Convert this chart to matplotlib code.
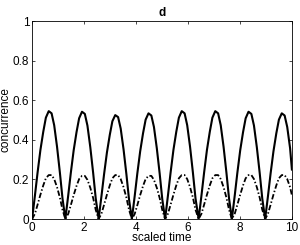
import matplotlib
matplotlib.use("Agg")
import matplotlib.pyplot as plt

# values, one row per oscillation (zero to zero)
t = [
    0.00, 0.11, 0.21, 0.32, 0.43, 0.53, 0.64, 0.75, 0.85, 0.96, 1.07, 1.17,
    1.28, 1.39, 1.49, 1.60, 1.71, 1.81, 1.92, 2.03, 2.13, 2.24, 2.35, 2.45,
    2.56, 2.67, 2.77, 2.88, 2.99, 3.09, 3.20, 3.31, 3.41, 3.52, 3.63, 3.73,
    3.84, 3.95, 4.05, 4.16, 4.27, 4.37, 4.48, 4.59, 4.69, 4.80, 4.91, 5.01,
    5.12, 5.23, 5.33, 5.44, 5.55, 5.65, 5.76, 5.87, 5.97, 6.08, 6.19, 6.29,
    6.41, 6.52, 6.62, 6.73, 6.84, 6.94, 7.05, 7.16, 7.26, 7.37, 7.48, 7.58,
    7.69, 7.80, 7.90, 8.01, 8.12, 8.22, 8.33, 8.44, 8.54, 8.65, 8.76, 8.86,
    8.97, 9.08, 9.18, 9.29, 9.40, 9.50, 9.61, 9.72, 9.82, 9.93, 10.0,
]
conc_solid = [
    0, 0.120, 0.234, 0.349, 0.441, 0.512, 0.545, 0.534, 0.474, 0.365, 0.234, 0.104,
    0, 0.119, 0.233, 0.347, 0.439, 0.509, 0.542, 0.531, 0.472, 0.363, 0.233, 0.103,
    0, 0.116, 0.226, 0.336, 0.425, 0.494, 0.525, 0.515, 0.457, 0.352, 0.226, 0.100,
    0, 0.117, 0.230, 0.342, 0.433, 0.502, 0.534, 0.523, 0.465, 0.358, 0.230, 0.101,
    0, 0.120, 0.234, 0.349, 0.441, 0.512, 0.545, 0.534, 0.474, 0.365, 0.234, 0.104,
    0, 0.120, 0.234, 0.349, 0.441, 0.512, 0.545, 0.534, 0.474, 0.365, 0.234, 0.104,
    0, 0.119, 0.233, 0.347, 0.439, 0.509, 0.542, 0.531, 0.472, 0.363, 0.233, 0.103,
    0, 0.117, 0.230, 0.342, 0.433, 0.502, 0.534, 0.523, 0.465, 0.358, 0.250,
]
conc_dash = [
    0, 0.027, 0.072, 0.123, 0.170, 0.206, 0.222, 0.222, 0.202, 0.161, 0.108, 0.047,
    0, 0.026, 0.070, 0.121, 0.167, 0.202, 0.218, 0.218, 0.198, 0.158, 0.106, 0.046,
    0, 0.027, 0.072, 0.123, 0.170, 0.206, 0.222, 0.222, 0.202, 0.161, 0.108, 0.047,
    0, 0.026, 0.070, 0.121, 0.167, 0.202, 0.218, 0.218, 0.198, 0.158, 0.106, 0.046,
    0, 0.027, 0.072, 0.123, 0.170, 0.206, 0.222, 0.222, 0.202, 0.161, 0.108, 0.047,
    0, 0.027, 0.072, 0.123, 0.170, 0.206, 0.222, 0.222, 0.202, 0.161, 0.108, 0.047,
    0, 0.027, 0.072, 0.123, 0.170, 0.206, 0.222, 0.222, 0.202, 0.161, 0.108, 0.047,
    0, 0.027, 0.072, 0.123, 0.170, 0.206, 0.222, 0.222, 0.202, 0.161, 0.120,
]
xticks = [0, 2, 4, 6, 8, 10]
yticks = [0, 0.2, 0.4, 0.6, 0.8, 1]
ytick_labels = ["0", "0.2", "0.4", "0.6", "0.8", "1"]

plt.rcParams["font.family"] = ["Liberation Sans", "DejaVu Sans"]

fig = plt.figure(figsize=(3.0, 2.45), dpi=100)
ax = fig.add_axes([0.107, 0.106, 0.866, 0.808])

ax.plot(t, conc_solid, color="black", lw=1.5)
ax.plot(t, conc_dash, color="black", lw=1.3, dashes=(3, 1.2, 0.8, 1.2))

ax.set_xlim(0, 10); ax.set_ylim(0, 1)
ax.set_xticks(xticks); ax.set_yticks(yticks, ytick_labels)
ax.tick_params(direction="in", length=2.5, width=0.5, labelsize=8.5,
               top=True, right=True, pad=2)
for s in ax.spines.values():
    s.set_linewidth(0.6)
ax.set_xlabel("scaled time", fontsize=8.5, labelpad=-1)
ax.set_ylabel("concurrence", fontsize=8.5, labelpad=1)
ax.set_title("d", fontsize=8.5, fontweight="bold", pad=4)

fig.savefig("out.png", dpi=100)
